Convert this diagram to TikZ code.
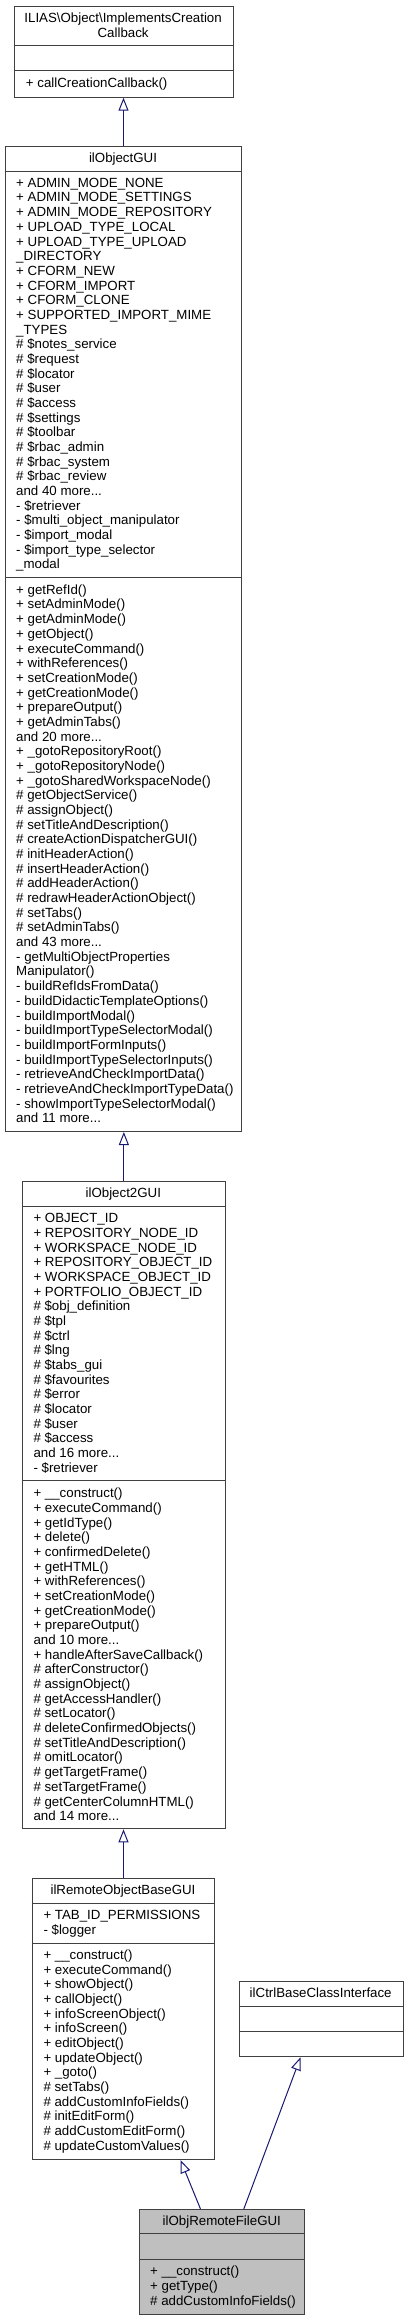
\documentclass[tikz,border=0pt]{standalone}
\usepackage{fontspec}
\setmainfont{Liberation Sans}
\usepackage{xcolor}
\usepackage{tikz}
\usetikzlibrary{calc, arrows.meta}

\definecolor{boxgray}{HTML}{404040}
\definecolor{edgenavy}{HTML}{191970}
\definecolor{focusgray}{HTML}{BFBFBF}
\newcommand{\tdots}{...}

\begin{document}
\begin{tikzpicture}[x=1pt, y=-1pt,
    classbox/.style={draw=boxgray, line width=1pt, inner sep=0pt, anchor=north west},
    member/.style={anchor=base west, inner sep=0pt, font=\fontsize{13.3}{14.68}\selectfont},
    title/.style={anchor=base, inner sep=0pt, font=\fontsize{13.3}{14.68}\selectfont},
    sep/.style={boxgray, line width=1pt},
    inherit/.style={draw=edgenavy, line width=1pt, -{Triangle[open, length=13pt, width=10pt]}}]
    \useasboundingbox (0,0) rectangle (408,2320);

    % ILIAS\Object\ImplementsCreationCallback
    \node[classbox, minimum width=219.2pt, minimum height=91pt] (callback) at (13.5,5.7) {};
    \draw[sep] (13.5,46) -- (232.7,46);
    \draw[sep] (13.5,71) -- (232.7,71);
    \node[title] (callbackT1) at (123.1,22.3) {ILIAS\textbackslash Object\textbackslash ImplementsCreation};
    \node[title] (callbackT2) at (123.1,37.3) {Callback};
    \node[member] (callbackOp1) at (25.7,87.3) {+ callCreationCallback()};

    % ilObjectGUI
    \node[classbox, minimum width=236pt, minimum height=985.3pt] (objgui) at (5,145.7) {};
    \draw[sep] (5,171.7) -- (241,171.7);
    \draw[sep] (5,577.7) -- (241,577.7);
    \node[title] (objguiT) at (123,162.3) {ilObjectGUI};
    \foreach \t [count=\i] in {+ ADMIN\_MODE\_NONE, + ADMIN\_MODE\_SETTINGS, + ADMIN\_MODE\_REPOSITORY,
        + UPLOAD\_TYPE\_LOCAL, + UPLOAD\_TYPE\_UPLOAD, \_DIRECTORY, + CFORM\_NEW, + CFORM\_IMPORT,
        + CFORM\_CLONE, + SUPPORTED\_IMPORT\_MIME, \_TYPES, \# \$notes\_service, \# \$request,
        \# \$locator, \# \$user, \# \$access, \# \$settings, \# \$toolbar, \# \$rbac\_admin,
        \# \$rbac\_system, \# \$rbac\_review, and 40 more\tdots, - \$retriever,
        - \$multi\_object\_manipulator, - \$import\_modal, - \$import\_type\_selector, \_modal}
        \node[member] (objguiAttr\i) at (16, {187.3+(\i-1)*14.68}) {\t};
    \foreach \t [count=\i] in {+ getRefId(), + setAdminMode(), + getAdminMode(), + getObject(),
        + executeCommand(), + withReferences(), + setCreationMode(), + getCreationMode(),
        + prepareOutput(), + getAdminTabs(), and 20 more\tdots, + \_gotoRepositoryRoot(),
        + \_gotoRepositoryNode(), + \_gotoSharedWorkspaceNode(), \# getObjectService(),
        \# assignObject(), \# setTitleAndDescription(), \# createActionDispatcherGUI(),
        \# initHeaderAction(), \# insertHeaderAction(), \# addHeaderAction(),
        \# redrawHeaderActionObject(), \# setTabs(), \# setAdminTabs(), and 43 more\tdots,
        - getMultiObjectProperties, Manipulator(), - buildRefIdsFromData(),
        - buildDidacticTemplateOptions(), - buildImportModal(), - buildImportTypeSelectorModal(),
        - buildImportFormInputs(), - buildImportTypeSelectorInputs(), - retrieveAndCheckImportData(),
        - retrieveAndCheckImportTypeData(), - showImportTypeSelectorModal(), and 11 more\tdots}
        \node[member] (objguiOp\i) at (16, {594.3+(\i-1)*14.68}) {\t};

    % ilObject2GUI
    \node[classbox, minimum width=203.3pt, minimum height=647.6pt] (objtwogui) at (21.7,1180.7) {};
    \draw[sep] (21.7,1206) -- (225,1206);
    \draw[sep] (21.7,1480.7) -- (225,1480.7);
    \node[title] (objtwoguiT) at (123.3,1197.7) {ilObject2GUI};
    \foreach \t [count=\i] in {+ OBJECT\_ID, + REPOSITORY\_NODE\_ID, + WORKSPACE\_NODE\_ID,
        + REPOSITORY\_OBJECT\_ID, + WORKSPACE\_OBJECT\_ID, + PORTFOLIO\_OBJECT\_ID,
        \# \$obj\_definition, \# \$tpl, \# \$ctrl, \# \$lng, \# \$tabs\_gui, \# \$favourites,
        \# \$error, \# \$locator, \# \$user, \# \$access, and 16 more\tdots, - \$retriever}
        \node[member] (objtwoguiAttr\i) at (33.3, {1222.7+(\i-1)*14.68}) {\t};
    \foreach \t [count=\i] in {+ \_\_construct(), + executeCommand(), + getIdType(), + delete(),
        + confirmedDelete(), + getHTML(), + withReferences(), + setCreationMode(),
        + getCreationMode(), + prepareOutput(), and 10 more\tdots, + handleAfterSaveCallback(),
        \# afterConstructor(), \# assignObject(), \# getAccessHandler(), \# setLocator(),
        \# deleteConfirmedObjects(), \# setTitleAndDescription(), \# omitLocator(),
        \# getTargetFrame(), \# setTargetFrame(), \# getCenterColumnHTML(), and 14 more\tdots}
        \node[member] (objtwoguiOp\i) at (33.3, {1497.7+(\i-1)*14.68}) {\t};

    % ilRemoteObjectBaseGUI
    \node[classbox, minimum width=182.6pt, minimum height=280.7pt] (remotebase) at (31.7,1878.3) {};
    \draw[sep] (31.7,1903.3) -- (214.3,1903.3);
    \draw[sep] (31.7,1943.3) -- (214.3,1943.3);
    \node[title] (remotebaseT) at (123,1894.3) {ilRemoteObjectBaseGUI};
    \foreach \t [count=\i] in {+ TAB\_ID\_PERMISSIONS, - \$logger}
        \node[member] (remotebaseAttr\i) at (43.3, {1919.3+(\i-1)*14.68}) {\t};
    \foreach \t [count=\i] in {+ \_\_construct(), + executeCommand(), + showObject(), + callObject(),
        + infoScreenObject(), + infoScreen(), + editObject(), + updateObject(), + \_goto(),
        \# setTabs(), \# addCustomInfoFields(), \# initEditForm(), \# addCustomEditForm(),
        \# updateCustomValues()}
        \node[member] (remotebaseOp\i) at (43.3, {1959.3+(\i-1)*14.68}) {\t};

    % ilCtrlBaseClassInterface
    \node[classbox, minimum width=164pt, minimum height=75.6pt] (ctrlbase) at (238.7,1980.7) {};
    \draw[sep] (238.7,2006) -- (402.7,2006);
    \draw[sep] (238.7,2031.3) -- (402.7,2031.3);
    \node[title] (ctrlbaseT) at (320.7,1997.3) {ilCtrlBaseClassInterface};

    % ilObjRemoteFileGUI
    \node[classbox, fill=focusgray, minimum width=165pt, minimum height=105pt] (remotefile) at (139.3,2209) {};
    \draw[sep] (139.3,2233.7) -- (304.3,2233.7);
    \draw[sep] (139.3,2259.3) -- (304.3,2259.3);
    \node[title] (remotefileT) at (221.8,2225.7) {ilObjRemoteFileGUI};
    \foreach \t [count=\i] in {+ \_\_construct(), + getType(), \# addCustomInfoFields()}
        \node[member] (remotefileOp\i) at (150, {2275.7+(\i-1)*14.68}) {\t};

    % inheritance
    \draw[inherit] (objgui.north) -- (objgui.north |- callback.south);
    \draw[inherit] (objtwogui.north) -- (objtwogui.north |- objgui.south);
    \draw[inherit] (remotebase.north) -- (remotebase.north |- objtwogui.south);
    \draw[inherit] ($(remotefile.north)+(-21.8,0)$) -- ($(remotebase.south)+(57,0)$);
    \draw[inherit] ($(remotefile.north)+(21.5,0)$) -- ($(ctrlbase.south)+(-20.7,0)$);
\end{tikzpicture}
\end{document}
